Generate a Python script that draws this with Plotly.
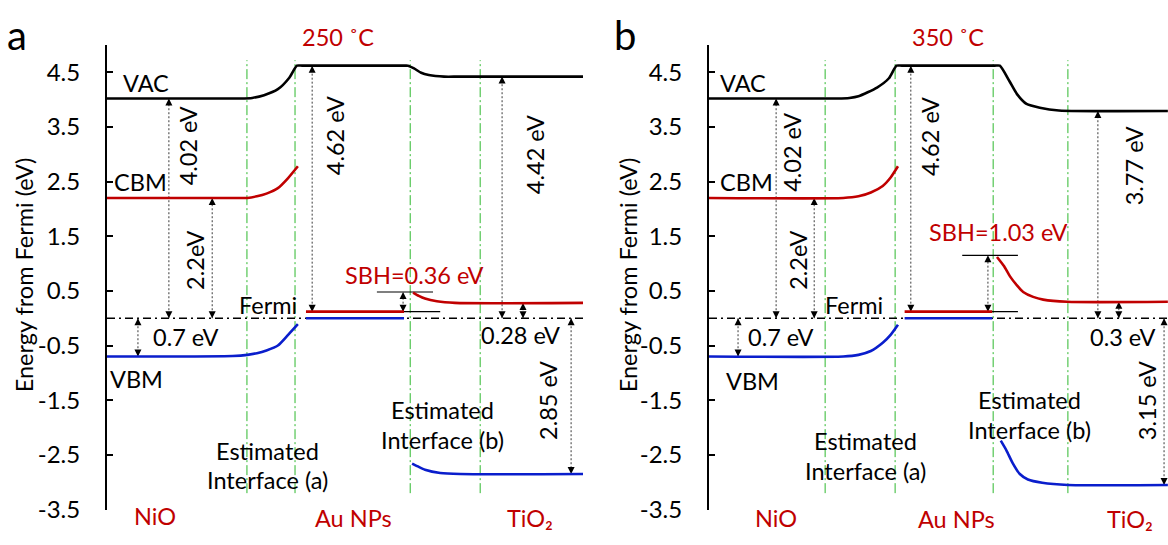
import plotly.graph_objects as go

# ---------------- data ----------------
# x = position across the NiO / Au NPs / TiO2 junction (arbitrary units), y = energy from Fermi (eV)
yticks = [-3.5, -2.5, -1.5, -0.5, 0.5, 1.5, 2.5, 3.5, 4.5]
ytick_labels = ["-3.5", "-2.5", "-1.5", "-0.5", "0.5", "1.5", "2.5", "3.5", "4.5"]

# Panel (a) 250 ˚C
a_vac_pos = [0, 28.0, 30.5, 33.0, 35.9, 38.3, 39.9, 41.0, 62.2, 63.2, 64.5, 66.0, 67.6, 70.8, 73.9, 100]
a_vac_e = [4.02, 4.02, 4.03, 4.08, 4.19, 4.40, 4.62, 4.62, 4.62, 4.62, 4.57, 4.49, 4.45, 4.42, 4.42, 4.42]
a_nio_pos = [0, 26.4, 29.5, 31.5, 33.5, 35.9, 38.0, 40.1]
a_nio_cbm = [2.20, 2.20, 2.20, 2.23, 2.28, 2.38, 2.56, 2.78]
a_nio_vbm = [-0.70, -0.69, -0.67, -0.64, -0.59, -0.50, -0.31, -0.11]
a_au_pos = [41.8, 62.4]
a_au_cbm = [0.12, 0.12]
a_au_vbm = [0.0, 0.0]
a_tio2_cpos = [64.3, 65.5, 66.8, 69.3, 73.1, 100]
a_tio2_cbm = [0.47, 0.41, 0.36, 0.31, 0.28, 0.28]
a_tio2_vpos = [64.1, 65.5, 66.8, 70.0, 74.2, 100]
a_tio2_vbm = [-2.66, -2.72, -2.77, -2.83, -2.85, -2.85]
a_interfaces = [29.4, 39.5, 63.7, 78.4]
a_arrow_pos = [6.5, 13.0, 22.1, 43.1, 62.2, 83.0, 87.4, 97.5]
a_arrow_from = [0, 0, 0, 0.12, 0.12, 0, 0, 0]
a_arrow_to = [-0.70, 4.02, 2.20, 4.62, 0.48, 4.42, 0.28, -2.85]
a_sbh_levels = [0.48, 0.12]
a_sbh_start = [56.7, 58.2]
a_sbh_end = [68.5, 70.0]
a_end = 100

# Panel (b) 350 ˚C
b_vac_pos = [0, 27.0, 29.5, 31.4, 35.3, 37.8, 39.4, 40.5, 60.0, 61.1, 63.1, 64.7, 66.7, 69.5, 73.5, 96.4]
b_vac_e = [4.02, 4.02, 4.03, 4.06, 4.22, 4.39, 4.62, 4.62, 4.62, 4.62, 4.34, 4.10, 3.92, 3.85, 3.80, 3.79]
b_nio_pos = [0, 28.2, 31.4, 34.0, 36.5, 38.2, 39.7]
b_nio_cbm = [2.20, 2.20, 2.23, 2.30, 2.42, 2.58, 2.78]
b_nio_vbm = [-0.70, -0.70, -0.67, -0.60, -0.45, -0.30, -0.12]
b_au_pos = [41.1, 59.5]
b_au_cbm = [0.12, 0.12]
b_au_vbm = [0.0, 0.0]
b_tio2_cpos = [60.5, 62.0, 63.2, 64.7, 66.0, 68.1, 70.2, 75.2, 96.4]
b_tio2_cbm = [1.12, 0.95, 0.77, 0.60, 0.48, 0.39, 0.34, 0.30, 0.30]
b_tio2_vpos = [61.3, 62.5, 63.8, 65.3, 67.0, 70.0, 75.4, 96.4]
b_tio2_vbm = [-2.24, -2.42, -2.65, -2.85, -2.95, -3.01, -3.05, -3.05]
b_interfaces = [24.4, 39.1, 59.7, 75.4]
b_arrow_pos = [6.1, 14.1, 22.1, 42.4, 58.6, 81.7, 86.1, 95.6]
b_arrow_from = [0, 0, 0, 0.12, 0.12, 0, 0, 0]
b_arrow_to = [-0.70, 4.02, 2.20, 4.62, 1.15, 3.79, 0.30, -3.05]
b_sbh_levels = [1.15, 0.12]
b_sbh_start = [53.2, 53.2]
b_sbh_end = [64.9, 64.9]
b_end = 96.43

# text labels inside the plot: (text, x, energy, colour key, rotated, anchor)
a_labels = [
    ("VAC", 2.9, 4.30, "k", False, "left"),
    ("CBM", 1.1, 2.50, "k", False, "left"),
    ("VBM", 0.2, -1.12, "k", False, "left"),
    ("Fermi", 33.8, 0.25, "k", False, "center"),
    ("0.7 eV", 16.4, -0.34, "k", False, "center"),
    ("0.28 eV", 86.8, -0.30, "k", False, "center"),
    ("SBH=0.36 eV", 64.5, 0.79, "r", False, "center"),
    ("4.02 eV", 17.2, 3.16, "k", True, "center"),
    ("2.2eV", 18.5, 1.05, "k", True, "center"),
    ("4.62 eV", 47.9, 3.33, "k", True, "center"),
    ("4.42 eV", 89.9, 3.00, "k", True, "center"),
    ("2.85 eV", 92.6, -1.50, "k", True, "center"),
    ("Estimated", 33.8, -2.42, "k", False, "center"),
    ("Interface (a)", 33.8, -2.96, "k", False, "center"),
    ("Estimated", 70.4, -1.67, "k", False, "center"),
    ("Interface (b)", 70.4, -2.23, "k", False, "center"),
]
b_labels = [
    ("VAC", 1.8, 4.30, "k", False, "left"),
    ("CBM", 1.8, 2.50, "k", False, "left"),
    ("VBM", 3.2, -1.15, "k", False, "left"),
    ("Fermi", 30.4, 0.25, "k", False, "center"),
    ("0.7 eV", 15.1, -0.34, "k", False, "center"),
    ("0.3 eV", 86.8, -0.34, "k", False, "center"),
    ("SBH=1.03 eV", 60.9, 1.57, "r", False, "center"),
    ("4.02 eV", 17.4, 3.04, "k", True, "center"),
    ("2.2eV", 18.7, 1.05, "k", True, "center"),
    ("4.62 eV", 46.4, 3.33, "k", True, "center"),
    ("3.77 eV", 89.3, 2.78, "k", True, "center"),
    ("3.15 eV", 92.0, -1.50, "k", True, "center"),
    ("Estimated", 32.8, -2.25, "k", False, "center"),
    ("Interface (a)", 32.8, -2.80, "k", False, "center"),
    ("Estimated", 67.3, -1.50, "k", False, "center"),
    ("Interface (b)", 67.3, -2.05, "k", False, "center"),
]
# labels outside the energy range (title above, layer names below): (text, x, pixel row)
a_outer = [("250 ˚C", 48.5, 38), ("NiO", 10.1, 529), ("Au NPs", 51.7, 531), ("TiO₂", 88.9, 531)]
b_outer = [("350 ˚C", 50.2, 38), ("NiO", 14.1, 531), ("Au NPs", 52.1, 532), ("TiO₂", 88.5, 532)]

# ---------------- styling ----------------
FONT = "Lato"
FS = 23.5
RED = "#C00000"
BLUE = "#0A1ECC"
GREEN = "#2EB82E"
BLACK = "#000000"
ARROW_GREY = "#3A3A3A"
W, H = 1168, 545

fig = go.Figure()


def add_panel(xr, yr, vac_pos, vac_e, nio_pos, nio_cbm, nio_vbm, au_pos, au_cbm, au_vbm,
              t_cpos, t_cbm, t_vpos, t_vbm, interfaces, arr_pos, arr_from, arr_to,
              sbh_lv, sbh_s, sbh_e, x_end, labels, outer):
    common = dict(xaxis=xr, yaxis=yr, hoverinfo="skip", showlegend=False, mode="lines")
    # interface lines (green dash-dot)
    gx, gy = [], []
    for x in interfaces:
        gx += [x, x, None]
        gy += [-3.2, 4.72, None]
    fig.add_trace(go.Scatter(x=gx, y=gy, line=dict(color=GREEN, width=1, dash="10px,3px,2px,3px"), **common))
    # Fermi level
    fig.add_trace(go.Scatter(x=[0, x_end], y=[0, 0], line=dict(color=BLACK, width=1.6, dash="8px,4px,2px,4px"), **common))
    # dotted measurement arrows with arrowheads at both ends
    for x, f, t in zip(arr_pos, arr_from, arr_to):
        fig.add_trace(go.Scatter(
            x=[x, x], y=[f, t], xaxis=xr, yaxis=yr, hoverinfo="skip", showlegend=False,
            mode="lines", line=dict(color=ARROW_GREY, width=1, dash="2px,2px")))
        fig.add_trace(go.Scatter(
            x=[x, x], y=[f, t], xaxis=xr, yaxis=yr, hoverinfo="skip", showlegend=False,
            mode="markers",
            marker=dict(symbol=["arrow-up" if f > t else "arrow-down", "arrow-up" if t > f else "arrow-down"],
                        size=7, color=BLACK, line=dict(width=0))))
    # SBH reference bars
    sx, sy = [], []
    for lv, s, e in zip(sbh_lv, sbh_s, sbh_e):
        sx += [s, e, None]
        sy += [lv, lv, None]
    fig.add_trace(go.Scatter(x=sx, y=sy, line=dict(color=BLACK, width=1.2), **common))
    # bands
    sp = dict(shape="spline", smoothing=0.6)
    fig.add_trace(go.Scatter(x=vac_pos, y=vac_e, line=dict(color=BLACK, width=2.6, **sp), **common))
    fig.add_trace(go.Scatter(x=nio_pos, y=nio_cbm, line=dict(color=RED, width=2.6, **sp), **common))
    fig.add_trace(go.Scatter(x=nio_pos, y=nio_vbm, line=dict(color=BLUE, width=2.6, **sp), **common))
    fig.add_trace(go.Scatter(x=au_pos, y=au_cbm, line=dict(color=RED, width=2.6), **common))
    fig.add_trace(go.Scatter(x=au_pos, y=au_vbm, line=dict(color=BLUE, width=2.6), **common))
    fig.add_trace(go.Scatter(x=t_cpos, y=t_cbm, line=dict(color=RED, width=2.6, **sp), **common))
    fig.add_trace(go.Scatter(x=t_vpos, y=t_vbm, line=dict(color=BLUE, width=2.6, **sp), **common))

    # texts
    for txt, x, y, col, rot, anchor in labels:
        fig.add_annotation(x=x, y=y, xref=xr, yref=yr, text=txt, showarrow=False,
                           xanchor=anchor, yanchor="middle", textangle=-90 if rot else 0,
                           font=dict(family=FONT, size=FS, color=RED if col == "r" else BLACK))
    for txt, x, row in outer:
        fig.add_annotation(x=x, y=1 - row / H, xref=xr, yref="paper", text=txt, showarrow=False,
                           xanchor="center", yanchor="middle",
                           font=dict(family=FONT, size=FS, color=RED))


add_panel("x", "y", a_vac_pos, a_vac_e, a_nio_pos, a_nio_cbm, a_nio_vbm, a_au_pos, a_au_cbm, a_au_vbm,
          a_tio2_cpos, a_tio2_cbm, a_tio2_vpos, a_tio2_vbm, a_interfaces, a_arrow_pos, a_arrow_from,
          a_arrow_to, a_sbh_levels, a_sbh_start, a_sbh_end, a_end, a_labels, a_outer)
add_panel("x2", "y2", b_vac_pos, b_vac_e, b_nio_pos, b_nio_cbm, b_nio_vbm, b_au_pos, b_au_cbm, b_au_vbm,
          b_tio2_cpos, b_tio2_cbm, b_tio2_vpos, b_tio2_vbm, b_interfaces, b_arrow_pos, b_arrow_from,
          b_arrow_to, b_sbh_levels, b_sbh_start, b_sbh_end, b_end, b_labels, b_outer)

yax = dict(range=[-3.5, 5.0], domain=[1 - 522 / H, 1 - 46 / H], tickvals=yticks, ticktext=ytick_labels,
           ticks="inside", ticklen=6, tickwidth=2, tickcolor=BLACK, showline=True, linecolor=BLACK,
           linewidth=2, showgrid=False, zeroline=False, ticklabelstandoff=20,
           tickfont=dict(family=FONT, size=24, color=BLACK))
fig.update_layout(
    width=W, height=H, margin=dict(l=0, r=0, t=0, b=0),
    paper_bgcolor="white", plot_bgcolor="white", showlegend=False,
    xaxis=dict(domain=[107 / W, 583 / W], range=[0, a_end], visible=False),
    xaxis2=dict(domain=[709 / W, 1.0], range=[0, b_end], visible=False),
    yaxis=dict(anchor="x", **yax),
    yaxis2=dict(anchor="x2", **yax),
)

# panel letters and y titles
for px_letter, px_title, letter in ((17, 24, "a"), (625, 628, "b")):
    fig.add_annotation(x=px_letter / W, y=1 - 36 / H, xref="paper", yref="paper", text=letter,
                       showarrow=False, xanchor="center", yanchor="middle",
                       font=dict(family=FONT, size=40, color=BLACK))
    fig.add_annotation(x=px_title / W, y=1 - 282 / H, xref="paper", yref="paper",
                       text="Energy from Fermi (eV)", textangle=-90, showarrow=False,
                       xanchor="center", yanchor="middle",
                       font=dict(family=FONT, size=FS, color=BLACK))

fig.write_html("out.html")
